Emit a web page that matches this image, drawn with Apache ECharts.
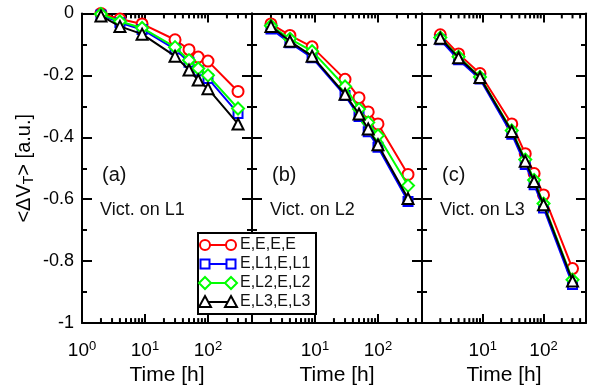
<!DOCTYPE html>
<html>
<head>
<meta charset="utf-8">
<script src="https://cdn.jsdelivr.net/npm/echarts@6/dist/echarts.min.js"></script>
<style>html,body{margin:0;padding:0;background:#fff;}#c{width:589px;height:391px;}</style>
</head>
<body>
<div id="c"></div>
<script>
// ---- data ----
const times = [2, 4, 9, 30, 50, 70, 100, 300];
const seriesNames = ['E,E,E,E', 'E,L1,E,L1', 'E,L2,E,L2', 'E,L3,E,L3'];
const panelTags = ['(a)', '(b)', '(c)'];
const panelNotes = ['Vict. on L1', 'Vict. on L2', 'Vict. on L3'];
// panel (a)
const a_EEEE   = [0.000, -0.018, -0.034, -0.085, -0.117, -0.141, -0.154, -0.252];
const a_EL1EL1 = [-0.005, -0.030, -0.052, -0.115, -0.158, -0.185, -0.210, -0.323];
const a_EL2EL2 = [-0.002, -0.026, -0.047, -0.109, -0.151, -0.178, -0.200, -0.307];
const a_EL3EL3 = [-0.008, -0.042, -0.067, -0.138, -0.183, -0.215, -0.243, -0.357];
// panel (b)
const b_EEEE   = [-0.034, -0.071, -0.108, -0.213, -0.272, -0.318, -0.357, -0.520];
const b_EL1EL1 = [-0.050, -0.095, -0.143, -0.265, -0.333, -0.382, -0.432, -0.607];
const b_EL2EL2 = [-0.040, -0.082, -0.122, -0.236, -0.309, -0.352, -0.394, -0.556];
const b_EL3EL3 = [-0.042, -0.090, -0.138, -0.261, -0.325, -0.373, -0.424, -0.598];
// panel (c)
const c_EEEE   = [-0.069, -0.131, -0.194, -0.357, -0.453, -0.517, -0.586, -0.824];
const c_EL1EL1 = [-0.085, -0.150, -0.212, -0.390, -0.488, -0.553, -0.628, -0.875];
const c_EL2EL2 = [-0.078, -0.140, -0.205, -0.378, -0.472, -0.538, -0.614, -0.860];
const c_EL3EL3 = [-0.080, -0.143, -0.207, -0.381, -0.477, -0.543, -0.618, -0.864];
// axis ticks
const xMin = 1, xMax = 500;
const xMinorTicks = [2,3,4,5,6,7,8,9,20,30,40,50,60,70,80,90,200,300,400];
const yMin = -1, yMax = 0, yInterval = 0.2;

const panels = [
  [a_EEEE, a_EL1EL1, a_EL2EL2, a_EL3EL3],
  [b_EEEE, b_EL1EL1, b_EL2EL2, b_EL3EL3],
  [c_EEEE, c_EL1EL1, c_EL2EL2, c_EL3EL3]
];
const colors = ['#ff0000', '#0000ff', '#00ff00', '#000000'];
const symbols = ['emptyCircle', 'emptyRect', 'emptyDiamond', 'emptyTriangle'];
const symSizes = [11, 9, 12, 11];

const FONT = 'Liberation Sans, Arial, sans-serif';
const gridLeft = [82, 252, 422];
const gridW = 170, gridTop = 13.4, gridH = 312.6;

const grids = [], xAxes = [], yAxes = [], series = [], graphics = [];

panels.forEach((panel, i) => {
  grids.push({left: gridLeft[i], top: gridTop, width: gridW, height: gridH, containLabel: false});
  const axLine = {show: true, onZero: false, lineStyle: {color: '#000', width: 2}};
  xAxes.push({
    type: 'log', logBase: 10, min: xMin, max: xMax, gridIndex: i, position: 'bottom',
    axisLine: axLine,
    axisTick: {show: true, inside: true, length: 9, lineStyle: {color: '#000', width: 2}},
    splitLine: {show: false},
    axisLabel: {
      show: true, margin: 17, color: '#000', fontFamily: FONT,
      formatter: function (v) {
        const e = Math.log10(v);
        if (Math.abs(e - Math.round(e)) > 1e-6) return '';
        if (i > 0 && Math.round(e) === 0) return '';
        return '{b|10}{s|' + Math.round(e) + '}';
      },
      rich: {
        b: {fontSize: 19, fontFamily: FONT, color: '#000', lineHeight: 20, verticalAlign: 'bottom', padding: [8, 0, 0, 0]},
        s: {fontSize: 13, fontFamily: FONT, color: '#000', lineHeight: 13, verticalAlign: 'top'}
      }
    },
    name: 'Time [h]', nameLocation: 'middle', nameGap: 39,
    nameTextStyle: {fontSize: 21, fontFamily: FONT, color: '#000'}
  });
  xAxes.push({
    type: 'log', logBase: 10, min: xMin, max: xMax, gridIndex: i, position: 'top',
    axisLine: axLine,
    axisTick: {show: true, inside: true, length: 9, lineStyle: {color: '#000', width: 2}},
    axisLabel: {show: false}, splitLine: {show: false}
  });
  const yCommon = {
    type: 'value', min: yMin, max: yMax, interval: yInterval, gridIndex: i,
    axisLine: axLine,
    axisTick: {show: true, inside: true, length: 10, lineStyle: {color: '#000', width: 2}},
    minorTick: {show: true, splitNumber: 2, length: 5, lineStyle: {color: '#000', width: 2}},
    splitLine: {show: false}
  };
  yAxes.push(Object.assign({}, yCommon, {
    position: 'left',
    axisLabel: {show: i === 0, fontSize: 18, fontFamily: FONT, color: '#000', margin: 8},
    name: i === 0 ? '<ΔV{t|T}> [a.u.]' : '', nameLocation: 'middle', nameRotate: 90, nameGap: 46,
    nameTextStyle: {fontSize: 20, fontFamily: FONT, color: '#000',
      rich: {t: {fontSize: 14, fontFamily: FONT, color: '#000', padding: [9, 0, 0, 0], verticalAlign: 'bottom'}}}
  }));
  yAxes.push(Object.assign({}, yCommon, {position: 'right', axisLabel: {show: false}}));

  // minor log ticks on bottom and top axes
  series.push({
    type: 'custom', xAxisIndex: 2 * i, yAxisIndex: 2 * i, silent: true, z: 1, clip: false,
    data: xMinorTicks.map(v => [v]),
    encode: {x: 0},
    renderItem: function (params, api) {
      const v = api.value(0);
      const pb = api.coord([v, yMin]);
      const pt = api.coord([v, yMax]);
      return {type: 'group', children: [
        {type: 'line', shape: {x1: pb[0], y1: pb[1], x2: pb[0], y2: pb[1] - 5}, style: {stroke: '#000', lineWidth: 2}},
        {type: 'line', shape: {x1: pt[0], y1: pt[1], x2: pt[0], y2: pt[1] + 5}, style: {stroke: '#000', lineWidth: 2}}
      ]};
    }
  });

  panel.forEach((vals, k) => {
    series.push({
      name: seriesNames[k], type: 'line', xAxisIndex: 2 * i, yAxisIndex: 2 * i,
      data: times.map((t, j) => [t, vals[j]]),
      symbol: symbols[k], symbolSize: symSizes[k], showAllSymbol: true,
      lineStyle: {color: colors[k], width: 2},
      itemStyle: {color: colors[k], borderWidth: 2},
      z: 3 + k, animation: false
    });
  });

  graphics.push({type: 'text', left: gridLeft[i] + 20, top: 165,
    style: {text: panelTags[i], font: '20px ' + FONT, fill: '#111'}});
  graphics.push({type: 'text', left: gridLeft[i] + 18, top: 201,
    style: {text: panelNotes[i], font: '18px ' + FONT, fill: '#111'}});
});

// legend box (drawn as graphic)
const lg = {type: 'group', left: 197, top: 232, z: 100, children: []};
lg.children.push({type: 'rect', shape: {x: 0, y: 0, width: 118, height: 81},
  style: {fill: '#fff', stroke: '#000', lineWidth: 2}, z: 100});
seriesNames.forEach((nm, k) => {
  const y = 12 + k * 19;
  const x1 = 7, x2 = 33;
  const c = colors[k];
  lg.children.push({type: 'line', shape: {x1: x1, y1: y, x2: x2, y2: y}, style: {stroke: c, lineWidth: 2}, z: 101});
  [x1, x2].forEach(x => {
    let shp;
    if (k === 0) shp = {type: 'circle', shape: {cx: x, cy: y, r: 5}};
    else if (k === 1) shp = {type: 'rect', shape: {x: x - 4.5, y: y - 4.5, width: 9, height: 9}};
    else if (k === 2) shp = {type: 'polygon', shape: {points: [[x, y - 6], [x + 6, y], [x, y + 6], [x - 6, y]]}};
    else shp = {type: 'polygon', shape: {points: [[x, y - 6], [x + 6, y + 5], [x - 6, y + 5]]}};
    shp.style = {fill: '#fff', stroke: c, lineWidth: 2};
    shp.z = 102;
    lg.children.push(shp);
  });
  lg.children.push({type: 'text', x: 42, y: y, z: 103,
    style: {text: nm, font: '16px ' + FONT, fill: '#111', textVerticalAlign: 'middle', verticalAlign: 'middle'}});
});
graphics.push(lg);

const chart = echarts.init(document.getElementById('c'), null, {renderer: 'canvas'});
chart.setOption({
  animation: false,
  backgroundColor: '#fff',
  grid: grids, xAxis: xAxes, yAxis: yAxes, series: series,
  graphic: graphics
});
</script>
</body>
</html>
